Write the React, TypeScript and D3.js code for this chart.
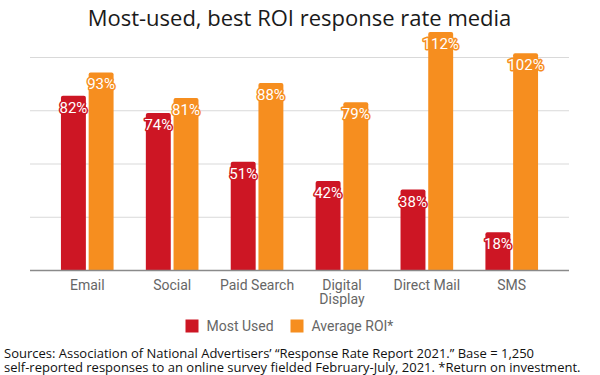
import React from "react";
import * as d3 from "d3";

const categories: string[][] = [["Email"], ["Social"], ["Paid Search"], ["Digital", "Display"], ["Direct Mail"], ["SMS"]];
const seriesNames = ["Most Used", "Average ROI*"];
const mostUsed = [82, 74, 51, 42, 38, 18];
const averageROI = [93, 81, 88, 79, 112, 102];
const yTicks = [0, 25, 50, 75, 100];
const colors = ["#cd1624", "#f68e1f"];
const title = "Most-used, best ROI response rate media";
const sourceLines = [
  "Sources: Association of National Advertisers\u2019 \u201cResponse Rate Report 2021.\u201d Base = 1,250",
  "self-reported responses to an online survey fielded February-July, 2021. *Return on investment.",
];

const W = 600;
const H = 375;

function topRoundedBar(x: number, y: number, w: number, h: number, r: number) {
  const p = d3.path();
  p.moveTo(x, y + h);
  p.lineTo(x, y + r);
  p.quadraticCurveTo(x, y, x + r, y);
  p.lineTo(x + w - r, y);
  p.quadraticCurveTo(x + w, y, x + w, y + r);
  p.lineTo(x + w, y + h);
  p.closePath();
  return p.toString();
}

export default function App() {
  const x0 = d3
    .scaleBand<number>()
    .domain(d3.range(categories.length))
    .range([30, 569])
    .paddingInner(0.38)
    .paddingOuter(0.3645);
  const x1 = d3
    .scaleBand<number>()
    .domain([0, 1])
    .range([0, x0.bandwidth()])
    .paddingInner(0.1);
  const y = d3.scaleLinear().domain([0, 100]).range([270.5, 57.5]);
  const series = [mostUsed, averageROI];

  return (
    <svg width={W} height={H} style={{ position: "absolute", left: 0, top: 0, background: "#fff" }}>
      <rect x={0} y={0} width={W} height={H} fill="#fff" />
      <text x={299.5} y={26} textAnchor="middle" fontFamily="Open Sans" fontSize={22} fill="#1a1a1a">
        {title}
      </text>
      {yTicks.slice(1).map((t) => (
        <line key={t} x1={30} x2={569} y1={y(t)} y2={y(t)} stroke="#d9d9d9" strokeWidth={1.2} />
      ))}
      {categories.map((c, i) =>
        series.map((s, j) => {
          const bx = (x0(i) as number) + (x1(j) as number);
          const bw = x1.bandwidth();
          const top = y(s[i]);
          return (
            <path key={`${i}-${j}`} d={topRoundedBar(bx, top, bw, y(0) - top, 2)} fill={colors[j]} />
          );
        })
      )}
      <line x1={30} x2={569} y1={y(0)} y2={y(0)} stroke="#8a8a8a" strokeWidth={1.5} />
      {categories.map((c, i) =>
        series.map((s, j) => {
          const bx = (x0(i) as number) + (x1(j) as number);
          const bw = x1.bandwidth();
          const top = y(s[i]);
          return (
            <text
              key={`l-${i}-${j}`}
              x={bx + bw / 2}
              y={top + 17}
              textAnchor="middle"
              fontFamily="Roboto"
              fontSize={15}
              fill="#fff"
              stroke={colors[j]}
              strokeWidth={3}
              strokeLinejoin="round"
              paintOrder="stroke"
            >
              {`${s[i]}%`}
            </text>
          );
        })
      )}
      {categories.map((c, i) => (
        <text
          key={`c-${i}`}
          x={(x0(i) as number) + x0.bandwidth() / 2}
          y={290}
          textAnchor="middle"
          fontFamily="Roboto"
          fontSize={14}
          fill="#666"
        >
          {c.map((line, k) => (
            <tspan key={k} x={(x0(i) as number) + x0.bandwidth() / 2} dy={k === 0 ? 0 : 14}>
              {line}
            </tspan>
          ))}
        </text>
      ))}
      {seriesNames.map((n, j) => {
        const lx = j === 0 ? 185.5 : 290.5;
        return (
          <g key={n}>
            <rect x={lx} y={319.5} width={13} height={13} fill={colors[j]} />
            <text x={lx + 21} y={330.5} fontFamily="Roboto" fontSize={14} fill="#666">
              {n}
            </text>
          </g>
        );
      })}
      {sourceLines.map((l, k) => (
        <text key={k} x={4} y={358 + k * 13.5} fontFamily="Open Sans" fontSize={13} fill="#111">
          {l}
        </text>
      ))}
    </svg>
  );
}
